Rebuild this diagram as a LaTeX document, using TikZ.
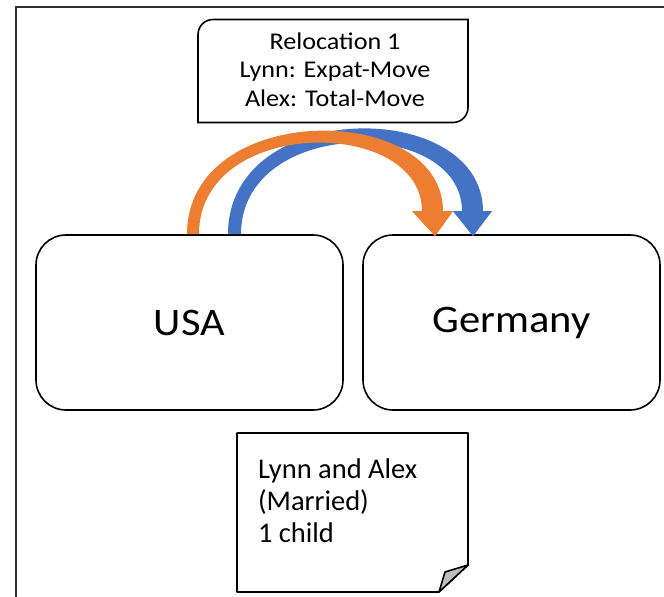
\documentclass[tikz,border=0pt]{standalone}
\usepackage{fontspec}
\setmainfont{Carlito}
\newfontfamily\widefont[FakeStretch=1.09]{Carlito}
\usetikzlibrary{calc}
\definecolor{arrOrange}{HTML}{ED7D31}
\definecolor{arrBlue}{HTML}{4472C4}
\definecolor{frameGray}{HTML}{303030}
\tikzset{
  boxline/.style={draw=black, line width=1.6pt},
  countrybox/.style={boxline, rounded corners=30pt, minimum height=175pt, inner sep=0pt,
    font=\widefont\fontsize{39}{46}\selectfont},
  plain/.style={inner sep=0pt, outer sep=0pt},
  notetext/.style={plain, anchor=base west, font=\fontsize{28.5}{32}\selectfont},
}
\begin{document}
\begin{tikzpicture}[x=1pt,y=-1pt]
\useasboundingbox (0,0) rectangle (664,597);
% frame (top and left edges)
\draw[line width=2pt, frameGray] (16,597) -- (16,7) -- (664,7);

% top box
\node[plain, minimum width=270pt, minimum height=103pt] (reloc) at (333,71) {};
\draw[boxline] (reloc.south west) -- ($(reloc.north west)+(0,15)$)
  arc[start angle=180, end angle=90, radius=15pt] -- (reloc.north east)
  -- ($(reloc.south east)+(0,-15)$) arc[start angle=0, end angle=-90, radius=15pt] -- cycle;
\node[plain, align=center, font=\widefont\fontsize{24}{28.3}\selectfont] (reloctext) at (335,69.5)
  {Relocation 1\\Lynn: Expat-Move\\Alex: Total-Move};

% country boxes
\node[countrybox, minimum width=307pt] (usa) at (189.5,322.5) {USA};
\node[countrybox, minimum width=297pt] (germany) at (511.5,322.5) {Germany};

% arrows
\coordinate (os) at ($(usa.north)+(-2.5,0)$);
\coordinate (ot) at ($(germany.north)+(-76.5,2)$);
\coordinate (bs) at ($(usa.north)+(38.5,0)$);
\coordinate (bt) at ($(germany.north)+(-38.5,2)$);

\fill[arrBlue] (bs) .. controls ($(bs)+(0,-137)$) and ($(bt)+(10,-139)$) .. ($(bt)+(10,-25)$)
  -- ($(bt)+(19,-25)$) -- (bt) -- ($(bt)+(-20,-25)$) -- ($(bt)+(-11,-25)$)
  .. controls ($(bt)+(-11,-120)$) and ($(bs)+(13,-118)$) .. ($(bs)+(13,0)$) -- cycle;

\fill[arrOrange] (os) .. controls ($(os)+(0,-134)$) and ($(ot)+(8,-136)$) .. ($(ot)+(8,-25)$)
  -- ($(ot)+(18,-25)$) -- (ot) -- ($(ot)+(-23,-25)$) -- ($(ot)+(-13,-25)$)
  .. controls ($(ot)+(-13,-120)$) and ($(os)+(12,-118)$) .. ($(os)+(12,0)$) -- cycle;

% note with folded corner
\node[plain, minimum width=231pt, minimum height=159pt] (note) at (352.5,512.5) {};
\draw[boxline, line join=round] (note.north west) -- (note.north east) -- ($(note.south east)+(0,-27)$)
  -- ($(note.south east)+(-29,0)$) -- (note.south west) -- cycle;
\draw[boxline, line join=round, fill=black!25] ($(note.south east)+(0,-27)$) -- ($(note.south east)+(-23,-20)$)
  -- ($(note.south east)+(-29,0)$) -- cycle;
\node[notetext] (n1) at (258,478) {Lynn and Alex};
\node[notetext] (n2) at (258,510) {(Married)};
\node[notetext] (n3) at (258,542) {1 child};
\end{tikzpicture}
\end{document}
